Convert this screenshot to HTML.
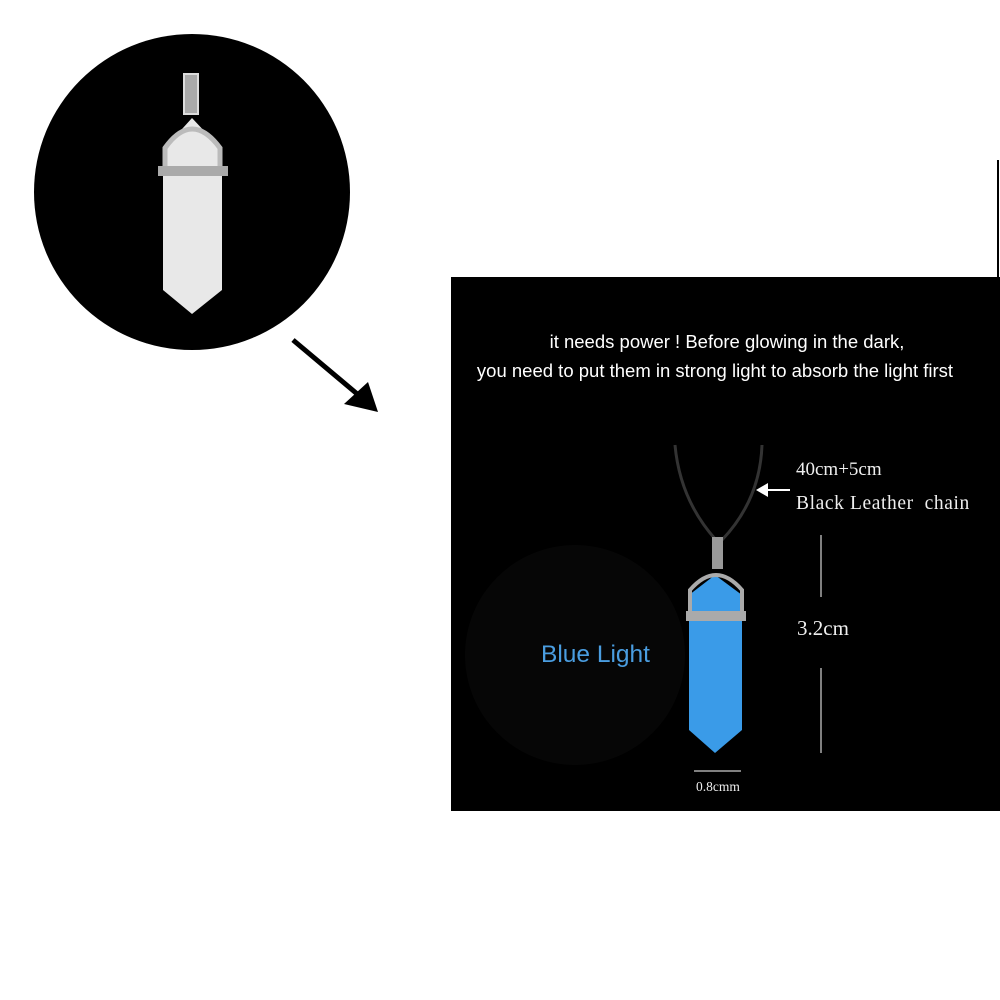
<!DOCTYPE html>
<html><head><style>
html,body{margin:0;padding:0;background:#fff;width:1000px;height:1000px;overflow:hidden;position:relative;font-family:"Liberation Sans",sans-serif}
.a{position:absolute}
.serif{font-family:"Liberation Serif",serif;color:#eee}
</style></head><body>
<div class="a" style="left:34px;top:34px;width:316px;height:316px;border-radius:50%;background:#000"></div>
<svg class="a" style="left:0;top:0" width="1000" height="1000">
  <!-- white pendant -->
  <rect x="184" y="74" width="14" height="40" fill="#aaa" stroke="#ddd" stroke-width="2"/>
  <polygon points="163,175 163,150 192,118 222,150 222,290 192,314 163,290" fill="#e8e8e8"/>
  <path d="M165,170 L165,148 Q192,110 220,148 L220,170" fill="none" stroke="#bbb" stroke-width="5"/>
  <rect x="158" y="166" width="70" height="10" fill="#aaa"/>
  <!-- arrow -->
  <line x1="293" y1="340" x2="362" y2="398" stroke="#000" stroke-width="5"/>
  <polygon points="378,412 344,404 368,382" fill="#000"/>
  <line x1="998" y1="160" x2="998" y2="277" stroke="#000" stroke-width="2"/>
  <rect x="451" y="277" width="549" height="534" fill="#000"/>
  <circle cx="575" cy="655" r="110" fill="#060606"/>
  <!-- chain -->
  <path d="M675,445 Q680,500 716,540" fill="none" stroke="#333" stroke-width="3"/>
  <path d="M762,445 Q760,500 722,540" fill="none" stroke="#333" stroke-width="3"/>
  <rect x="712" y="537" width="11" height="32" fill="#999"/>
  <polygon points="689,620 689,595 715,575 742,595 742,730 715,753 689,730" fill="#3a9be8"/>
  <path d="M690,620 L690,590 Q716,560 742,590 L742,620" fill="none" stroke="#aaa" stroke-width="4"/>
  <rect x="686" y="611" width="60" height="10" fill="#aaa"/>
  <line x1="821" y1="535" x2="821" y2="597" stroke="#aaa" stroke-width="1.5"/>
  <line x1="821" y1="668" x2="821" y2="753" stroke="#aaa" stroke-width="1.5"/>
  <line x1="694" y1="771" x2="741" y2="771" stroke="#aaa" stroke-width="1.5"/>
  <line x1="762" y1="490" x2="790" y2="490" stroke="#fff" stroke-width="2"/>
  <polygon points="756,490 768,483 768,497" fill="#fff"/>
</svg>
<div class="a" style="left:430px;top:327px;width:570px;text-align:center;color:#fff;font-size:18.5px;line-height:29px"><span style="position:relative;left:12px">it needs power ! Before glowing in the dark,</span><br>you need to put them in strong light to absorb the light first</div>
<div class="a" style="left:541px;top:641px;color:#4a9de0;font-size:24.5px">Blue Light</div>
<div class="a serif" style="left:796px;top:459px;font-size:19px">40cm+5cm</div>
<div class="a serif" style="left:796px;top:493px;font-size:19.5px;letter-spacing:0.6px">Black Leather&nbsp; chain</div>
<div class="a serif" style="left:797px;top:616px;font-size:21px">3.2cm</div>
<div class="a serif" style="left:696px;top:779px;font-size:13.5px">0.8cmm</div>
</body></html>
